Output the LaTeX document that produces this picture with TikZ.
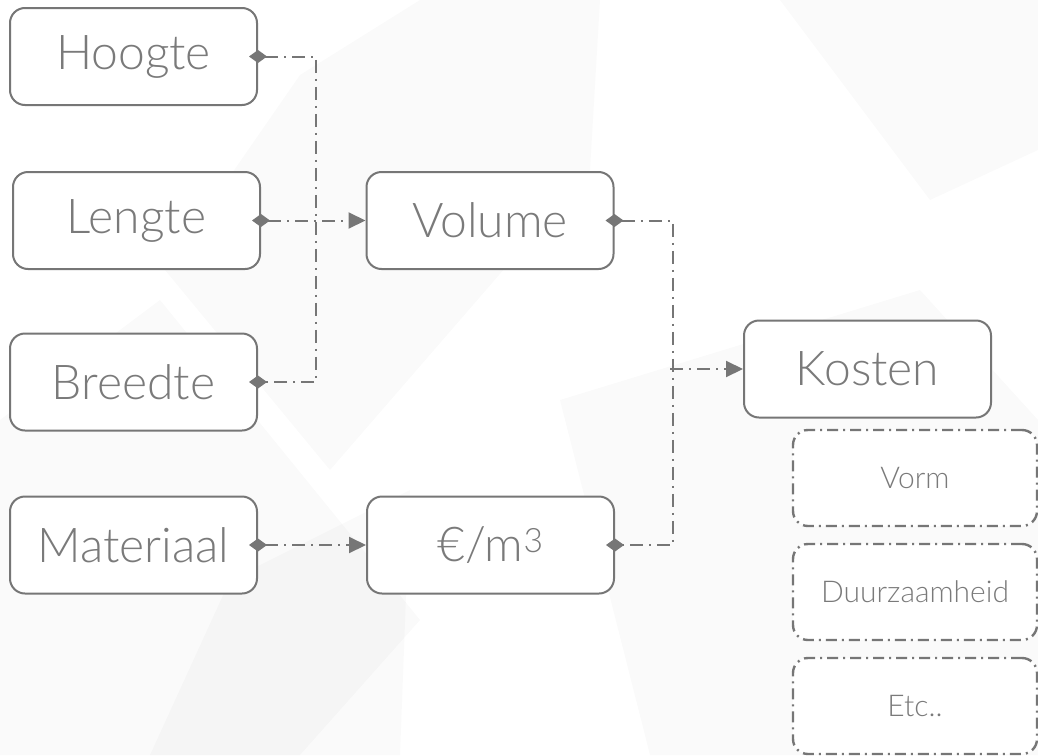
\documentclass[tikz,border=0pt]{standalone}
\usepackage{fontspec}
\setmainfont{Lato Light}
\usetikzlibrary{shapes}
\usetikzlibrary{arrows.meta}
\definecolor{linegray}{HTML}{767676}
\definecolor{textgray}{HTML}{7A7A7A}
\tikzset{
	box/.style = {rectangle, rounded corners=15pt, draw=linegray, line width=2pt,
		fill=white, text=textgray, minimum width=247pt, minimum height=97pt,
		inner sep=0pt, font=\fontsize{48}{54}\selectfont},% hoofdblok
	optbox/.style = {box, line width=2.4pt, dash pattern=on 11pt off 5pt on 2pt off 5pt,
		minimum width=244pt, minimum height=96pt,
		font=\fontsize{30}{34}\selectfont},% extra factor
	link/.style = {draw=linegray, line width=2pt,
		dash pattern=on 13pt off 6pt on 2pt off 6pt},% verbinding
	ruit/.tip = {Diamond[length=18pt,width=13pt]},% ruit op de rand
	punt/.tip = {Triangle[length=17pt,width=16pt]},% pijlpunt
	shade/.style = {fill=black, fill opacity=0.02, draw=none}% achtergrond
}
\begin{document}
\begin{tikzpicture}[x=1pt,y=-1pt,>=punt,line join=round]
		\useasboundingbox (0,0) rectangle (1038,755);
		% achtergrond
		\fill[white] (0,0) rectangle (1038,755);
		\path[shade] (165,270) -- (300,75) -- (420,0) -- (600,0) -- (590,170) -- (330,470) -- cycle;
		\path[shade] (0,420) -- (160,300) -- (420,620) -- (300,755) -- (0,755) -- cycle;
		\path[shade] (560,400) -- (920,290) -- (1038,420) -- (1038,755) -- (650,755) -- cycle;
		\path[shade] (780,0) -- (1038,0) -- (1038,150) -- (930,200) -- cycle;
		\path[shade] (230,580) -- (410,490) -- (400,755) -- (150,755) -- cycle;
		% blokken
		\node[box] (Hoogte) at (133.5,56.5) {Hoogte};
		\node[box] (Lengte) at (136.5,220.5) {Lengte};
		\node[box] (Breedte) at (133.5,382) {Breedte};
		\node[box] (Materiaal) at (133.5,545) {Materiaal};
		\node[box] (Volume) at (490,220.5) {Volume};
		\node[box] (Prijs) at (490.5,545) {€/m\textsuperscript{3}};
		\node[box] (Kosten) at (867.5,369) {Kosten};
		\node[optbox] (Vorm) at (915,478) {Vorm};
		\node[optbox] (Duurzaam) at (915,592) {Duurzaamheid};
		\node[optbox] (Etc) at (915,706) {Etc..};
		% verbindingen
		\draw[link, ruit-ruit, shorten <=-9pt, shorten >=-9pt] (Hoogte.east) -- ++(58,0) |- (Breedte.east);
		\draw[link, ruit->, shorten <=-9pt] (Lengte.east) -- (Volume.west);
		\draw[link, ruit-ruit, shorten <=-9pt, shorten >=-9pt] (Volume.east) -- ++(58,0) |- (Prijs.east);
		\coordinate (samen) at (670,369);
		\draw[link, ->] (samen) -- (Kosten.west);
		\draw[link, ruit->, shorten <=-9pt] (Materiaal.east) -- (Prijs.west);
\end{tikzpicture}
\end{document}
